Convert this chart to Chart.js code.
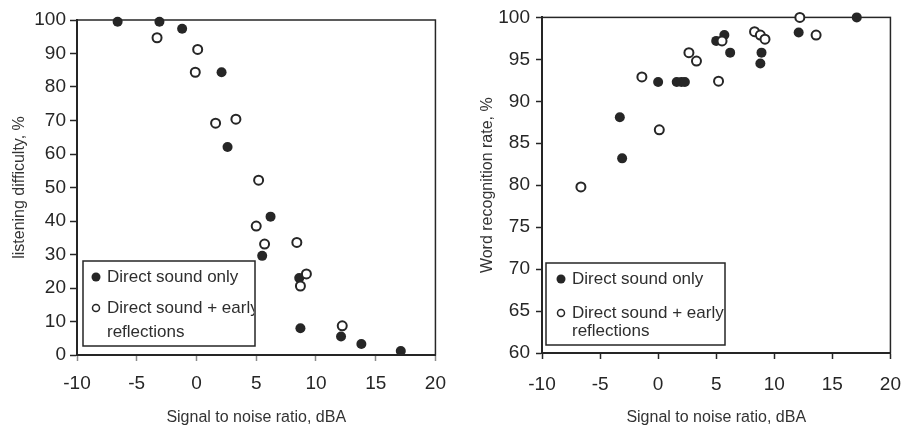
<!DOCTYPE html>
<html>
<head>
<meta charset="utf-8">
<script src="https://cdn.jsdelivr.net/npm/chart.js@4.4.0/dist/chart.umd.min.js"></script>
<style>
    body { margin: 0; background: #fff; }
    .panel { position: absolute; top: 0; height: 427px; }
</style>
</head>
<body>
<div class="panel" style="left:0;width:457px"><canvas id="difficulty-chart" width="457" height="427"></canvas></div>
<div class="panel" style="left:457px;width:458px"><canvas id="recognition-chart" width="458" height="427"></canvas></div>

<script>
// values
var snrTicks = [-10, -5, 0, 5, 10, 15, 20];
var difficultyTicks = [0, 10, 20, 30, 40, 50, 60, 70, 80, 90, 100];
var recognitionTicks = [60, 65, 70, 75, 80, 85, 90, 95, 100];

// left plot: listening difficulty, %
var diffDirectX = [-6.6, -3.1, -1.2, 2.1, 2.6, 5.5, 6.2, 8.6, 8.7, 12.1, 13.8, 17.1];
var diffDirectY = [99.5, 99.5, 97.4, 84.4, 62.1, 29.6, 41.3, 23.0, 8.0, 5.5, 3.3, 1.2];
var diffEarlyX = [-3.3, 0.1, -0.1, 1.6, 3.3, 5.2, 5.0, 5.7, 8.4, 9.2, 8.7, 12.2];
var diffEarlyY = [94.7, 91.2, 84.4, 69.2, 70.4, 52.2, 38.5, 33.1, 33.6, 24.2, 20.6, 8.7];

// right plot: word recognition rate, %
var recDirectX = [-3.3, -3.1, 0.0, 1.6, 2.0, 2.3, 5.0, 5.7, 6.2, 8.9, 8.8, 12.1, 17.1];
var recDirectY = [88.1, 83.2, 92.3, 92.3, 92.3, 92.3, 97.2, 97.9, 95.8, 95.8, 94.5, 98.2, 100];
var recEarlyX = [-6.65, -1.4, 0.1, 2.65, 3.3, 5.2, 5.5, 8.3, 8.8, 9.2, 12.2, 13.6];
var recEarlyY = [79.8, 92.9, 86.6, 95.8, 94.8, 92.4, 97.2, 98.3, 97.9, 97.4, 100, 97.9];

var labelDirect = 'Direct sound only';
var labelEarly = ['Direct sound + early', 'reflections'];

var ink = '#262626';

function toPoints(xs, ys) {
    var pts = [];
    for (var i = 0; i < xs.length; i++) {
        pts.push({ x: xs[i], y: ys[i] });
    }
    return pts;
}

// box round the plot area (top and right sides)
var framePlugin = {
    id: 'frame',
    beforeDatasetsDraw: function (chart) {
        var a = chart.chartArea;
        var ctx = chart.ctx;
        ctx.save();
        ctx.strokeStyle = ink;
        ctx.lineWidth = 1.5;
        ctx.strokeRect(a.left, a.top, a.right - a.left, a.bottom - a.top);
        ctx.restore();
    }
};

// legend drawn as a boxed panel inside the plot
var boxLegendPlugin = {
    id: 'boxLegend',
    afterDatasetsDraw: function (chart, args, opts) {
        var ctx = chart.ctx;
        ctx.save();
        ctx.fillStyle = '#fff';
        ctx.fillRect(opts.x, opts.y, opts.w, opts.h);
        ctx.strokeStyle = ink;
        ctx.lineWidth = 1.5;
        ctx.strokeRect(opts.x, opts.y, opts.w, opts.h);

        ctx.beginPath();
        ctx.rect(opts.x, opts.y, opts.w - 1, opts.h);
        ctx.clip();

        // filled marker
        ctx.fillStyle = ink;
        ctx.beginPath();
        ctx.arc(opts.x + opts.markX, opts.y + opts.rows[0], 4.5, 0, Math.PI * 2);
        ctx.fill();
        // open marker
        ctx.beginPath();
        ctx.arc(opts.x + opts.markX, opts.y + opts.rows[1], 3.5, 0, Math.PI * 2);
        ctx.fillStyle = '#fff';
        ctx.fill();
        ctx.lineWidth = 1.5;
        ctx.strokeStyle = ink;
        ctx.stroke();

        ctx.fillStyle = '#2e2e2e';
        ctx.font = '17px "Liberation Sans", Arial, sans-serif';
        ctx.textBaseline = 'middle';
        ctx.fillText(labelDirect, opts.x + opts.textX, opts.y + opts.rows[0]);
        ctx.fillText(labelEarly[0], opts.x + opts.textX, opts.y + opts.rows[1]);
        ctx.fillText(labelEarly[1], opts.x + opts.textX, opts.y + opts.rows[2]);
        ctx.restore();
    }
};

function makeChart(canvasId, cfg) {
    var ctx = document.getElementById(canvasId).getContext('2d');
    return new Chart(ctx, {
        type: 'scatter',
        data: {
            datasets: [{
                label: labelEarly.join(' '),
                data: toPoints(cfg.earlyX, cfg.earlyY),
                pointStyle: 'circle',
                pointRadius: 4.5,
                pointBorderWidth: 2,
                backgroundColor: '#fff',
                borderColor: ink,
                clip: false
            }, {
                label: labelDirect,
                data: toPoints(cfg.directX, cfg.directY),
                pointStyle: 'circle',
                pointRadius: 5,
                pointBorderWidth: 0,
                backgroundColor: ink,
                borderColor: ink,
                clip: false
            }]
        },
        options: {
            responsive: false,
            animation: false,
            layout: {
                padding: { top: cfg.padTop, right: cfg.padRight, left: 0, bottom: 0 }
            },
            plugins: {
                legend: { display: false },
                tooltip: { enabled: false },
                boxLegend: cfg.legend
            },
            scales: {
                x: {
                    type: 'linear',
                    min: -10,
                    max: 20,
                    afterBuildTicks: function (axis) {
                        axis.ticks = snrTicks.map(function (v) { return { value: v }; });
                    },
                    afterFit: function (axis) { axis.height = cfg.xHeight; },
                    border: { display: true, color: ink, width: 2 },
                    grid: { drawOnChartArea: false, drawTicks: true, tickLength: 6, tickColor: cfg.xTickColor, tickWidth: 1.5 },
                    ticks: {
                        color: '#262626',
                        padding: cfg.xTickPad,
                        maxRotation: 0,
                        font: { family: '"Liberation Sans", Arial, sans-serif', size: 19 }
                    },
                    title: {
                        display: true,
                        text: 'Signal to noise ratio, dBA',
                        color: '#333',
                        padding: { top: 0, bottom: 0 },
                        font: { family: '"Liberation Sans", Arial, sans-serif', size: 16 }
                    }
                },
                y: {
                    type: 'linear',
                    min: cfg.yMin,
                    max: cfg.yMax,
                    afterBuildTicks: function (axis) {
                        axis.ticks = cfg.yTicks.map(function (v) { return { value: v }; });
                    },
                    afterFit: function (axis) { axis.width = cfg.yWidth; },
                    border: { display: true, color: ink, width: 2 },
                    grid: { drawOnChartArea: false, drawTicks: true, tickLength: cfg.yTickLen, tickColor: ink, tickWidth: 1.5 },
                    ticks: {
                        color: '#262626',
                        padding: cfg.yTickPad,
                        font: { family: '"Liberation Sans", Arial, sans-serif', size: 19 }
                    },
                    title: {
                        display: true,
                        text: cfg.yTitle,
                        color: '#333',
                        padding: { top: cfg.yTitlePad, bottom: 0 },
                        font: { family: '"Liberation Sans", Arial, sans-serif', size: 16 }
                    }
                }
            }
        },
        plugins: [framePlugin, boxLegendPlugin]
    });
}

makeChart('difficulty-chart', {
    directX: diffDirectX, directY: diffDirectY,
    earlyX: diffEarlyX, earlyY: diffEarlyY,
    yMin: 0, yMax: 100, yTicks: difficultyTicks,
    yTitle: 'listening difficulty, %',
    padTop: 20, padRight: 20, xHeight: 72, yWidth: 77,
    yTickLen: 7, yTickPad: 4, yTitlePad: 10,
    xTickPad: 11, xTickColor: '#8a8a8a',
    legend: { x: 83, y: 261, w: 172, h: 85, markX: 13, textX: 24, rows: [16, 47, 71] }
});

makeChart('recognition-chart', {
    directX: recDirectX, directY: recDirectY,
    earlyX: recEarlyX, earlyY: recEarlyY,
    yMin: 60, yMax: 100, yTicks: recognitionTicks,
    yTitle: 'Word recognition rate, %',
    padTop: 16, padRight: 16, xHeight: 74, yWidth: 85,
    yTickLen: 6, yTickPad: 6, yTitlePad: 21,
    xTickPad: 14, xTickColor: ink,
    legend: { x: 89, y: 263, w: 179, h: 82, markX: 15, textX: 26, rows: [16, 50, 68] }
});
</script>
</body>
</html>
